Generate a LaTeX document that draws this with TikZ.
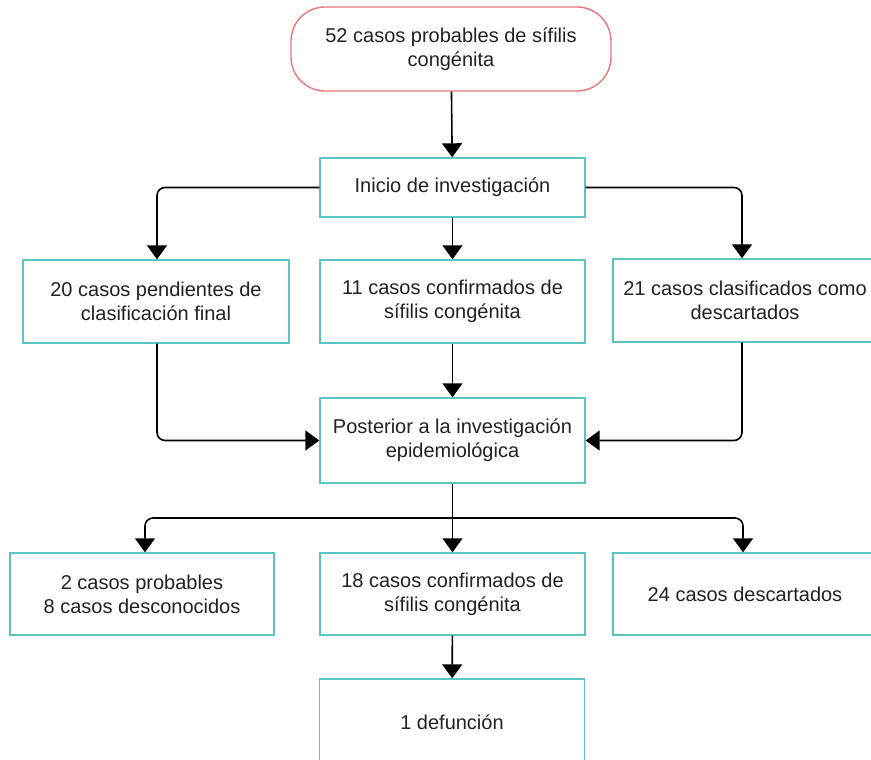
\documentclass[tikz,border=0pt]{standalone}
\usepackage{fontspec}
\setmainfont{Liberation Sans}
\usetikzlibrary{arrows.meta,calc}
\definecolor{tealc}{HTML}{5BC5C3}
\definecolor{redc}{HTML}{E8787A}
\definecolor{txt}{HTML}{222222}
\begin{document}
\begin{tikzpicture}[x=1pt,y=-1pt,
  box/.style={draw=tealc,line width=1.4pt,fill=white,align=center,text=txt,
    minimum width=265pt,minimum height=83pt,inner sep=0pt,
    font=\fontsize{20}{24}\selectfont},
  topbox/.style={box,draw=redc,rounded corners=34pt,minimum width=320pt,minimum height=84pt},
  arr/.style={draw=black,line width=1.6pt,rounded corners=8pt,
    -{Triangle[width=20pt,length=14pt]}}]
\useasboundingbox (0,0) rectangle (871,760);
\node[topbox] (top) at (451,49) {52 casos probables de sífilis\\congénita};
\node[box,minimum height=59pt] (ini) at (452.5,187.5) {Inicio de investigación};
\node[box,minimum width=266pt] (l2) at (156,301.5) {20 casos pendientes de\\clasificación final};
\node[box] (m2) at (452.5,301.5) {11 casos confirmados de\\sífilis congénita};
\node[box,minimum width=264pt] (r2) at (745,300.5) {21 casos clasificados como\\descartados};
\node[box,minimum height=85pt] (post) at (452.5,440.5) {Posterior a la investigación\\epidemiológica};
\node[box,minimum width=264pt,minimum height=82pt] (l3) at (142,594) {2 casos probables\\8 casos desconocidos};
\node[box,minimum height=82pt] (m3) at (452.5,594) {18 casos confirmados de\\sífilis congénita};
\node[box,minimum width=264pt,minimum height=82pt] (r3) at (745,594) {24 casos descartados};
\node[box,minimum height=86pt] (def) at (452,722) {1 defunción};
\coordinate (split) at (452.5,518);
\draw[arr] (top) -- (ini);
\draw[arr] (ini.west) -| ([xshift=1pt]l2.north);
\draw[arr] (ini.east) -| ([xshift=-3pt]r2.north);
\draw[arr] (ini) -- (m2);
\draw[arr] ([xshift=1pt]l2.south) |- (post.west);
\draw[arr] ([xshift=-3pt]r2.south) |- (post.east);
\draw[arr] (m2) -- (post);
\draw[line width=1.6pt] (post.south) -- (split);
\draw[arr] (split) -| ([xshift=3pt]l3.north);
\draw[arr] (split) -| ([xshift=-2pt]r3.north);
\draw[arr] (post) -- (m3);
\draw[arr] (m3) -- (def);
\end{tikzpicture}
\end{document}
